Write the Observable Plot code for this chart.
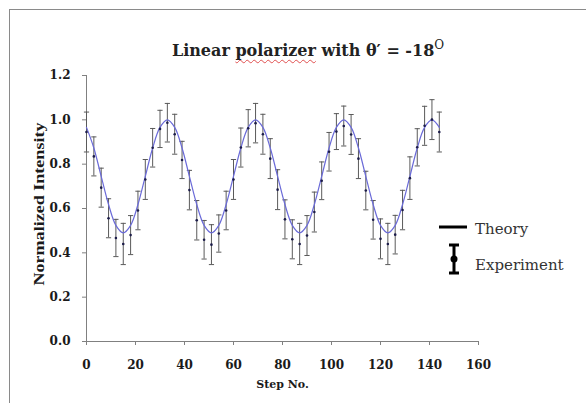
<!DOCTYPE html>
<html><head><meta charset="utf-8">
<script src="https://cdn.jsdelivr.net/npm/d3@7"></script>
<script src="https://cdn.jsdelivr.net/npm/@observablehq/plot@0.6"></script>
<style>
body{margin:0;background:#fff;overflow:hidden;}
#wrap{position:relative;width:586px;height:403px;overflow:hidden;background:#fff;}
#frame{position:absolute;left:9px;top:9px;width:700px;height:500px;border:1px solid #8a8a8a;}
#title{position:absolute;left:0;width:616px;top:41px;text-align:center;font:bold 16px "DejaVu Serif";color:#222;white-space:nowrap;line-height:19px;}
#title .sp{text-decoration:underline wavy #e05050;text-decoration-thickness:1px;text-underline-offset:3px;}
#title sup{font-size:12px;font-weight:normal;vertical-align:7px;line-height:0;}
#chart{position:absolute;left:0;top:0;}
#legend{position:absolute;left:0;top:0;}
</style></head>
<body>
<div id="wrap">
  <div id="frame"></div>
  <div id="chart"></div>
  <div id="title">Linear <span class="sp">polarizer</span> with θ′ = -18<sup>O</sup></div>
  <svg id="legend" width="586" height="403"></svg>
</div>
<script>
const steps = [0,3,6,9,12,15,18,21,24,27,30,33,36,39,42,45,48,51,54,57,60,63,66,69,72,75,78,81,84,87,90,93,96,99,102,105,108,111,114,117,120,123,126,129,132,135,138,141,144];
const theory = [0.966,0.873,0.745,0.618,0.524,0.490,0.524,0.618,0.745,0.873,0.966,1.000,
                0.966,0.873,0.745,0.618,0.524,0.490,0.524,0.618,0.745,0.873,0.966,1.000,
                0.966,0.873,0.745,0.618,0.524,0.490,0.524,0.618,0.745,0.873,0.966,1.000,
                0.966,0.873,0.745,0.618,0.524,0.490,0.524,0.618,0.745,0.873,0.966,1.000,
                0.966];
const experiment = [0.945,0.835,0.694,0.556,0.467,0.440,0.480,0.591,0.731,0.874,0.959,0.987,
                    0.935,0.819,0.683,0.547,0.459,0.437,0.487,0.591,0.731,0.875,0.962,0.985,
                    0.935,0.825,0.685,0.551,0.461,0.440,0.478,0.584,0.725,0.856,0.947,0.972,
                    0.934,0.825,0.681,0.549,0.463,0.440,0.482,0.593,0.737,0.876,0.973,1.001,
                    0.945];
const errors = [0.090,0.088,0.088,0.088,0.084,0.093,0.088,0.087,0.090,0.087,0.084,0.087,
                0.090,0.084,0.089,0.089,0.087,0.090,0.084,0.087,0.090,0.088,0.084,0.089,
                0.090,0.090,0.090,0.088,0.088,0.093,0.090,0.090,0.085,0.087,0.081,0.090,
                0.090,0.090,0.087,0.087,0.090,0.093,0.087,0.089,0.096,0.084,0.088,0.090,
                0.090];
const xTicks = [0,20,40,60,80,100,120,140,160];
const yTicks = [0,0.2,0.4,0.6,0.8,1.0,1.2];

const data = steps.map((s,i)=>({step:s, theory:theory[i], v:experiment[i], e:errors[i]}));

const cap = {draw(ctx, size){ const w = Math.sqrt(size/Math.PI); ctx.moveTo(-w,0); ctx.lineTo(w,0); }};
const axisGrey = "#808080";

const chart = Plot.plot({
  width: 586, height: 403,
  marginLeft: 86, marginRight: 108, marginTop: 75, marginBottom: 62,
  style: {fontFamily: "DejaVu Serif", fontSize: "12px", fontWeight: "bold", color: "#1a1a1a", background: "transparent", overflow: "visible"},
  x: {domain: [0,160]},
  y: {domain: [0,1.2]},
  marks: [
    Plot.axisY({ticks: yTicks, tickFormat: d3.format(".1f"), tickSize: 4, tickPadding: 12, stroke: axisGrey, fill: "#1a1a1a", label: null}),
    Plot.axisX({ticks: xTicks, tickSize: 4, tickPadding: 15, stroke: axisGrey, fill: "#1a1a1a", label: null}),
    Plot.ruleX([0], {stroke: axisGrey}),
    Plot.ruleY([0], {stroke: axisGrey}),
    Plot.ruleX(data, {x: "step", y1: d=>d.v-d.e, y2: d=>d.v+d.e, stroke: "#5a5a5a", strokeWidth: 1}),
    Plot.dot(data, {x: "step", y: d=>d.v+d.e, symbol: cap, r: 2.6, stroke: "#5a5a5a", strokeWidth: 1}),
    Plot.dot(data, {x: "step", y: d=>d.v-d.e, symbol: cap, r: 2.6, stroke: "#5a5a5a", strokeWidth: 1}),
    Plot.line(data, {x: "step", y: "theory", curve: "catmull-rom", stroke: "#6a6ad8", strokeWidth: 1.2}),
    Plot.dot(data, {x: "step", y: "v", r: 1.3, fill: "#1c1c4a", stroke: null}),
    Plot.text(["Step No."], {frameAnchor: "bottom", dy: 46, text: d=>d, fontSize: 11, fontWeight: "bold", fill: "#1a1a1a"})
  ]
});
document.getElementById("chart").appendChild(chart);

// y-axis title and legend
const lg = d3.select("#legend");
lg.append("text").attr("transform","translate(44,204) rotate(-90)").attr("text-anchor","middle")
  .attr("font-family","Liberation Serif").attr("font-weight","bold").attr("font-size",14).attr("fill","#1a1a1a")
  .attr("textLength",163).attr("lengthAdjust","spacingAndGlyphs").text("Normalized Intensity");
lg.append("line").attr("x1",439).attr("x2",467).attr("y1",227).attr("y2",227).attr("stroke","#000").attr("stroke-width",3);
lg.append("text").attr("x",475).attr("y",230).attr("dominant-baseline","middle").attr("font-family","DejaVu Serif").attr("font-size",15).attr("fill","#333").text("Theory");
lg.append("line").attr("x1",454).attr("x2",454).attr("y1",245).attr("y2",273).attr("stroke","#000").attr("stroke-width",3);
lg.append("line").attr("x1",449).attr("x2",459).attr("y1",245).attr("y2",245).attr("stroke","#000").attr("stroke-width",3);
lg.append("line").attr("x1",449).attr("x2",459).attr("y1",273).attr("y2",273).attr("stroke","#000").attr("stroke-width",3);
lg.append("circle").attr("cx",454).attr("cy",259).attr("r",3.5).attr("fill","#000");
lg.append("text").attr("x",475).attr("y",266).attr("dominant-baseline","middle").attr("font-family","DejaVu Serif").attr("font-size",15).attr("fill","#333").text("Experiment");
</script>
</body></html>
